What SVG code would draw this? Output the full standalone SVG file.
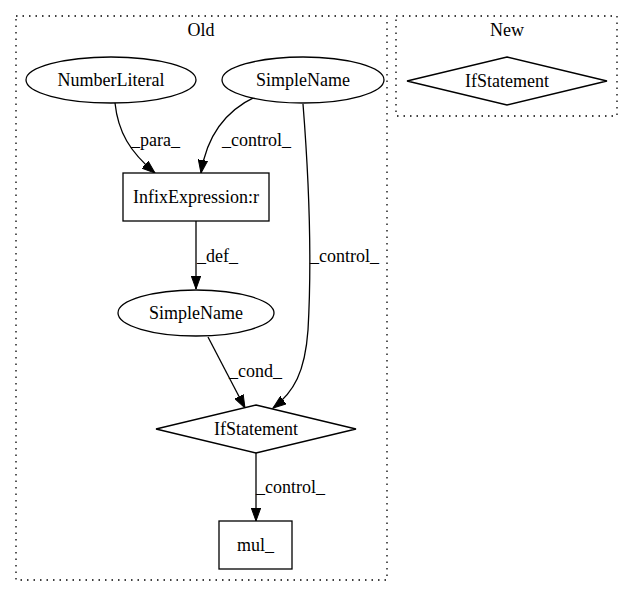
<svg xmlns="http://www.w3.org/2000/svg" width="632" height="596" viewBox="0 0 632 596">
<defs>
<marker id="arr" markerWidth="14" markerHeight="10" refX="13" refY="5" orient="auto" markerUnits="userSpaceOnUse">
<path d="M0,0.3 L13,5 L0,9.7 Z" fill="#000" stroke="#000" stroke-width="1"/>
</marker>
</defs>
<style>
text{font-family:"Liberation Serif","Times New Roman",serif;font-size:18px;fill:#000}
.c{text-anchor:middle}
.cl{fill:none;stroke:#000;stroke-width:1.3;stroke-dasharray:1.5,5}
.n{fill:#fff;stroke:#000;stroke-width:1.3}
.e{fill:none;stroke:#000;stroke-width:1.3;marker-end:url(#arr)}
</style>
<rect width="632" height="596" fill="#fff"/>
<g id="cluster_old">
<rect class="cl" x="16" y="16" width="371" height="564"/>
<text class="c" x="201" y="36">Old</text>
</g>
<g id="cluster_new">
<rect class="cl" x="396" y="16" width="221" height="100"/>
<text class="c" x="507" y="36">New</text>
</g>
<g id="edges">
<path class="e" d="M115,103 C118,132 130,152 155,173"/>
<text x="131" y="146">_para_</text>
<path class="e" d="M257,96 C226,110 207,134 201,173"/>
<text x="222" y="146">_control_</text>
<path class="e" d="M303,104 C309,180 312,260 308,330 C305,372 294,392 273,408"/>
<text x="310" y="262">_control_</text>
<path class="e" d="M196,221 L196,289"/>
<text x="197" y="262">_def_</text>
<path class="e" d="M208,337 L245,408"/>
<text x="229" y="377">_cond_</text>
<path class="e" d="M256,453 L256,521"/>
<text x="256" y="493">_control_</text>
</g>
<g id="n_numberliteral">
<ellipse class="n" cx="111" cy="80" rx="85" ry="23"/>
<text class="c" x="111" y="86">NumberLiteral</text>
</g>
<g id="n_simplename1">
<ellipse class="n" cx="303" cy="80" rx="81" ry="23"/>
<text class="c" x="303" y="86">SimpleName</text>
</g>
<g id="n_infix">
<rect class="n" x="123" y="173" width="146" height="48"/>
<text class="c" x="196" y="203">InfixExpression:r</text>
</g>
<g id="n_simplename2">
<ellipse class="n" cx="196" cy="313" rx="78" ry="23"/>
<text class="c" x="196" y="319">SimpleName</text>
</g>
<g id="n_if_old">
<polygon class="n" points="256,405 356,429 256,453 156,429"/>
<text class="c" x="256" y="435">IfStatement</text>
</g>
<g id="n_mul">
<rect class="n" x="219" y="521" width="73" height="48"/>
<text class="c" x="255.5" y="551">mul_</text>
</g>
<g id="n_if_new">
<polygon class="n" points="507,57 607,81 507,105 407,81"/>
<text class="c" x="507" y="87">IfStatement</text>
</g>
</svg>
